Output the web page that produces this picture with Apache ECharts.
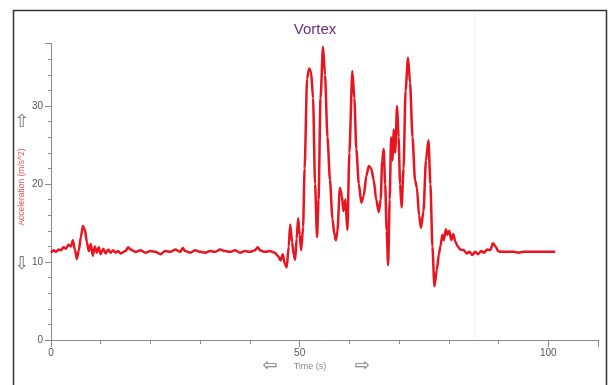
<!DOCTYPE html>
<html><head><meta charset="utf-8">
<script src="https://cdn.jsdelivr.net/npm/echarts@6/dist/echarts.min.js"></script>
<style>html,body{margin:0;padding:0;background:#fff}#c{width:610px;height:385px}</style>
</head><body><div id="c"></div>
<script>
const chartTitle = "Vortex";
const xAxisName = "Time (s)";
const yAxisName = "Acceleration (m/s^2)";
const xTickLabels = [0, 50, 100];
const yTickLabels = [0, 10, 20, 30];
const timeS = [0,0.5,1,1.5,2,2.5,3,3.5,4,4.4,4.8,5.2,5.6,6.0,6.4,6.8,7.2,7.6,8.0,8.4,8.8,9.2,9.6,10,10.5,11,11.5,12,12.5,13,13.5,14,
15,15.5,16,17,18,19,20,21,22,23,24,25,26,26.5,27,28,29,30,31,32,33,34,35,36,37,38,39,40,41,41.6,42,43,44,45,45.6,46.2,46.6,47.0,47.4,47.8,48.1,48.5,48.8,49.1,49.4,49.7,50.0,50.3,50.7,
51.0,51.5,51.9,52.3,52.7,53.1,53.5,53.8,54.2,54.7,55.1,55.6,56.1,56.6,57.0,57.3,57.6,58.1,58.5,58.8,59.2,59.6,60.0,60.6,61.0,61.4,61.9,62.4,62.9,63.4,63.9,64.4,64.9,65.4,65.9,66.3,66.6,66.9,67.2,67.5,67.8,68.1,68.4,68.7,68.9,69.2,69.6,69.9,70.2,70.5,70.9,71.3,71.8,72.2,72.7,73.2,73.6,74.0,74.4,74.9,75.4,75.9,76.3,76.7,77.1,77.6,78.0,78.3,78.7,79.0,79.4,79.7,80.1,80.5,80.9,81.3,81.8,82.3,83,83.6,84.2,84.7,85.3,85.9,86.5,87.1,87.7,88.3,88.9,89.4,89.9,90.5,92,93,94,95,96,97,98,99,100,101.4];
const accel = [11.2,11.5,11.3,11.6,11.5,11.9,11.7,12.2,12.0,12.8,11.6,10.4,11.5,13.2,14.6,14.2,12.6,11.4,12.3,10.8,12.0,11.2,11.9,11.0,11.7,11.1,11.6,11.2,11.5,11.2,11.4,11.1,
11.4,11.9,11.6,11.3,11.5,11.2,11.4,11.3,11.0,11.4,11.3,11.6,11.3,11.8,11.4,11.2,11.5,11.3,11.2,11.4,11.3,11.6,11.4,11.3,11.5,11.2,11.4,11.3,11.5,11.9,11.5,11.3,11.4,11.2,10.8,10.2,11.0,9.8,9.3,12.0,14.8,12.5,11.0,10.3,13.0,15.6,13.5,11.5,14.5,
22,33.5,34.8,34.4,31,20,13.2,18,31,37.6,34,26,20.5,15.5,13.5,12.8,14,19.5,18.5,16.5,18,14.1,24,34.5,31,24.5,20,17.6,18.5,21,22.3,22.0,20.5,18,16.4,18,23,24.5,20,14,9.6,18,26,23,27,24,30,26,20,17.0,22,32,36.2,33,26,20.5,19.5,16,14.4,16.5,23,25.6,20,12,6.9,9,11,12,13.5,12.8,14.2,13.5,14,12.8,13.6,12.6,12.0,11.6,11.5,11.1,11.3,10.9,11.3,11.0,11.4,11.2,11.6,11.5,12.4,12.0,11.4,11.3,11.3,11.3,11.2,11.3,11.3,11.3,11.3,11.3,11.3,11.3];

const seriesData = timeS.map((t, i) => [t, accel[i]]);
const chart = echarts.init(document.getElementById('c'), null, {renderer: 'canvas'});
const axisCol = '#8a8a8a';
const lblStyle = {color: '#555', fontSize: 10, fontFamily: 'Liberation Sans'};
chart.setOption({
  animation: false,
  backgroundColor: '#fff',
  title: {text: chartTitle, left: 310, top: 17, textAlign: 'center',
    textStyle: {color: '#6a2c82', fontSize: 15, fontWeight: 'normal', fontFamily: 'Liberation Sans'}},
  grid: {left: 51, right: 12, top: 43.6, bottom: 45},
  xAxis: [
    {type: 'value', min: 0, max: 110, interval: 10,
     axisLine: {show: true, onZero: false, lineStyle: {color: axisCol, width: 1}},
     axisTick: {show: true, length: 4, lineStyle: {color: axisCol}},
     axisLabel: {show: true, margin: 8, formatter: v => xTickLabels.includes(v) ? String(v) : '', ...lblStyle},
     splitLine: {show: false}},
    {type: 'value', min: 0, max: 110, interval: 50, position: 'bottom',
     axisLine: {show: false}, axisTick: {show: true, length: 7, lineStyle: {color: axisCol}},
     axisLabel: {show: false}, splitLine: {show: false}}
  ],
  yAxis: [
    {type: 'value', min: 0, max: 38, interval: 2,
     axisLine: {show: true, onZero: false, lineStyle: {color: axisCol, width: 1}},
     axisTick: {show: true, length: 3, lineStyle: {color: axisCol}},
     axisLabel: {show: true, margin: 8, formatter: v => yTickLabels.includes(v) ? String(v) : '', ...lblStyle},
     splitLine: {show: false}},
    {type: 'value', min: 0, max: 38, interval: 10, position: 'left',
     axisLine: {show: false}, axisTick: {show: true, length: 6, lineStyle: {color: axisCol}},
     axisLabel: {show: false}, splitLine: {show: false}}
  ],
  series: [{type: 'line', data: seriesData, showSymbol: false, smooth: 0.25, smoothMonotone: 'x',
    lineStyle: {color: '#e8141f', width: 2.5}, xAxisIndex: 0, yAxisIndex: 0}],
  graphic: [
    {type: 'rect', shape: {x: 13.5, y: 10.5, width: 593, height: 390}, style: {fill: 'none', stroke: '#333', lineWidth: 1.5}, silent: true},
    {type: 'line', shape: {x1: 474.5, y1: 12, x2: 474.5, y2: 339}, style: {stroke: '#f2f2f2', lineWidth: 1}, silent: true, z: -1},
    {type: 'text', x: 22, y: 187, rotation: Math.PI / 2, style: {text: yAxisName, fill: '#f05050', fontSize: 8.5, fontFamily: 'Liberation Sans', align: 'center', verticalAlign: 'middle'}},
    {type: 'text', x: 22, y: 122, style: {text: '⇧', fill: '#777', fontSize: 18, fontFamily: 'DejaVu Sans', align: 'center', verticalAlign: 'middle'}},
    {type: 'text', x: 22, y: 264, style: {text: '⇩', fill: '#777', fontSize: 18, fontFamily: 'DejaVu Sans', align: 'center', verticalAlign: 'middle'}},
    {type: 'text', x: 270, y: 366, style: {text: '⇦', fill: '#777', fontSize: 18, fontFamily: 'DejaVu Sans', align: 'center', verticalAlign: 'middle'}},
    {type: 'text', x: 362, y: 366, style: {text: '⇨', fill: '#777', fontSize: 18, fontFamily: 'DejaVu Sans', align: 'center', verticalAlign: 'middle'}},
    {type: 'text', x: 310, y: 367, style: {text: xAxisName, fill: '#888', fontSize: 9, fontFamily: 'Liberation Sans', align: 'center', verticalAlign: 'middle'}}
  ]
});
</script></body></html>
